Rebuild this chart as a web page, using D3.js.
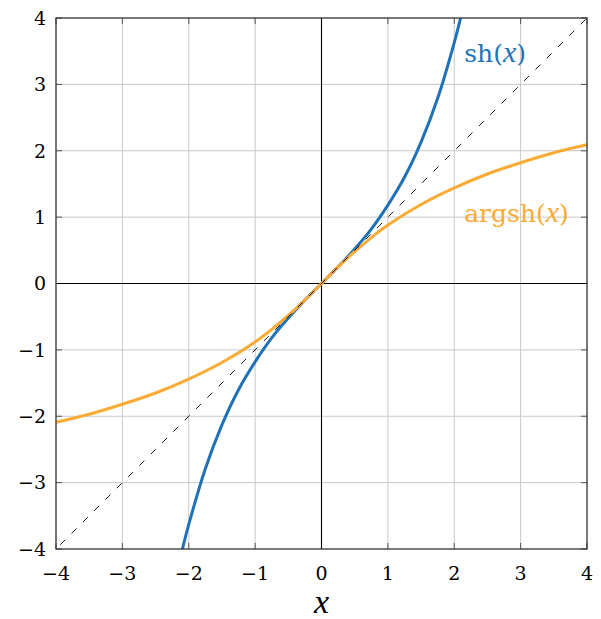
<!DOCTYPE html>
<html>

<head>
    <script src="https://d3js.org/d3.v7.min.js"></script>
    <style>
        body { margin: 0; background: #fff; }
        text { font-family: "DejaVu Serif", serif; }
    </style>
</head>

<body>
    <script>
        // values
        const ticks = [-4, -3, -2, -1, 0, 1, 2, 3, 4];

        const shX = [-2.1, -2, -1.75, -1.5, -1.25, -1, -0.75, -0.5, -0.25, 0, 0.25, 0.5, 0.75, 1, 1.25, 1.5, 1.75, 2, 2.1];
        const shY = [-4.02, -3.63, -2.79, -2.13, -1.60, -1.18, -0.82, -0.52, -0.25, 0, 0.25, 0.52, 0.82, 1.18, 1.60, 2.13, 2.79, 3.63, 4.02];

        const argshX = [-4, -3.5, -3, -2.5, -2, -1.5, -1, -0.75, -0.5, -0.25, 0, 0.25, 0.5, 0.75, 1, 1.5, 2, 2.5, 3, 3.5, 4];
        const argshY = [-2.09, -1.97, -1.82, -1.65, -1.44, -1.19, -0.88, -0.69, -0.48, -0.25, 0, 0.25, 0.48, 0.69, 0.88, 1.19, 1.44, 1.65, 1.82, 1.97, 2.09];

        const diagX = [-4, 4];
        const diagY = [-4, 4];

        const width = 601, height = 619;
        const pLeft = 56, pRight = 587, pTop = 18, pBottom = 549;

        const svg = d3.select("body").append("svg")
            .attr("width", width)
            .attr("height", height);

        const x = d3.scaleLinear().domain([-4, 4]).range([pLeft, pRight]);
        const y = d3.scaleLinear().domain([-4, 4]).range([pBottom, pTop]);

        // grille
        svg.append("g").selectAll("line")
            .data(ticks)
            .enter().append("line")
            .attr("x1", d => x(d)).attr("x2", d => x(d))
            .attr("y1", pTop).attr("y2", pBottom)
            .attr("stroke", "#c8c8c8").attr("stroke-width", 1);
        svg.append("g").selectAll("line")
            .data(ticks)
            .enter().append("line")
            .attr("y1", d => y(d)).attr("y2", d => y(d))
            .attr("x1", pLeft).attr("x2", pRight)
            .attr("stroke", "#c8c8c8").attr("stroke-width", 1);

        // petits traits de graduation sur le cadre
        const tk = 6;
        const tg = svg.append("g").attr("stroke", "#555").attr("stroke-width", 1);
        ticks.forEach(t => {
            tg.append("line").attr("x1", x(t)).attr("x2", x(t)).attr("y1", pBottom).attr("y2", pBottom - tk);
            tg.append("line").attr("x1", x(t)).attr("x2", x(t)).attr("y1", pTop).attr("y2", pTop + tk);
            tg.append("line").attr("y1", y(t)).attr("y2", y(t)).attr("x1", pLeft).attr("x2", pLeft + tk);
            tg.append("line").attr("y1", y(t)).attr("y2", y(t)).attr("x1", pRight).attr("x2", pRight - tk);
        });

        // axes x=0 et y=0
        svg.append("line").attr("x1", x(0)).attr("x2", x(0)).attr("y1", pTop).attr("y2", pBottom)
            .attr("stroke", "#000").attr("stroke-width", 1.1);
        svg.append("line").attr("y1", y(0)).attr("y2", y(0)).attr("x1", pLeft).attr("x2", pRight)
            .attr("stroke", "#000").attr("stroke-width", 1.1);

        svg.append("defs").append("clipPath").attr("id", "clip")
            .append("rect").attr("x", pLeft).attr("y", pTop)
            .attr("width", pRight - pLeft).attr("height", pBottom - pTop);

        const line = d3.line()
            .x(d => x(d[0]))
            .y(d => y(d[1]))
            .curve(d3.curveCatmullRom);

        const plot = svg.append("g").attr("clip-path", "url(#clip)");

        plot.append("path")
            .datum(d3.zip(shX, shY))
            .attr("d", line)
            .attr("fill", "none")
            .attr("stroke", "#1f72b8")
            .attr("stroke-width", 3);

        plot.append("path")
            .datum(d3.zip(argshX, argshY))
            .attr("d", line)
            .attr("fill", "none")
            .attr("stroke", "#fbab34")
            .attr("stroke-width", 3);

        plot.append("path")
            .datum(d3.zip(diagX, diagY))
            .attr("d", d3.line().x(d => x(d[0])).y(d => y(d[1])))
            .attr("fill", "none")
            .attr("stroke", "#000")
            .attr("stroke-width", 0.9)
            .attr("stroke-dasharray", "0 6 7 3");

        // cadre
        svg.append("rect")
            .attr("x", pLeft).attr("y", pTop)
            .attr("width", pRight - pLeft).attr("height", pBottom - pTop)
            .attr("fill", "none").attr("stroke", "#333").attr("stroke-width", 1.2);

        // étiquettes des graduations
        svg.append("g").selectAll("text")
            .data(ticks)
            .enter().append("text")
            .attr("x", d => x(d))
            .attr("y", pBottom + 31)
            .attr("text-anchor", "middle")
            .attr("font-size", 19)
            .text(d => d < 0 ? "\u2212" + Math.abs(d) : d);
        svg.append("g").selectAll("text")
            .data(ticks)
            .enter().append("text")
            .attr("x", pLeft - 10)
            .attr("y", d => y(d))
            .attr("dy", "0.36em")
            .attr("text-anchor", "end")
            .attr("font-size", 19)
            .text(d => d < 0 ? "\u2212" + Math.abs(d) : d);

        // titre de l'axe
        svg.append("text")
            .attr("x", x(0))
            .attr("y", 613)
            .attr("text-anchor", "middle")
            .attr("font-size", 34)
            .attr("font-style", "italic")
            .style("font-family", "'Liberation Serif', serif")
            .text("x");

        // légendes des courbes
        const lab = (txt, px, py, col) => {
            const t = svg.append("text")
                .attr("x", x(px)).attr("y", y(py))
                .attr("font-size", 25)
                .attr("fill", col);
            t.append("tspan").text(txt + "(");
            t.append("tspan").attr("font-style", "italic")
                .style("font-family", "'Liberation Serif', serif")
                .attr("font-size", 30).text("x");
            t.append("tspan").text(")");
        };
        lab("sh", 2.15, 3.33, "#1f72b8");
        lab("argsh", 2.15, 0.92, "#fbab34");
    </script>
</body>

</html>
